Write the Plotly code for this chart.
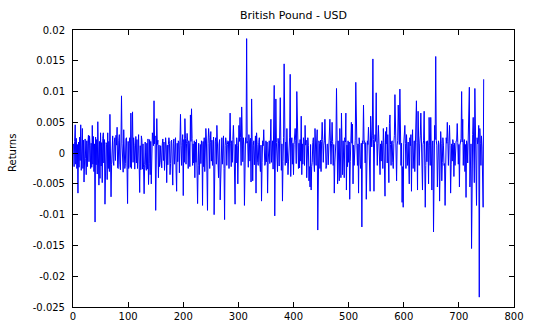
import plotly.graph_objects as go

# Daily GBP/USD returns, in thousandths (0.001)
returns_e3 = [
    1.5, -2.2, 1.9, 4.6, -1.8, 2.4, -2.5, 1.4, -6.5, 1.8,
    -2.3, 2.6, -1.2, 4.6, -2.8, 2.5, 4.0, -2.5, 2.1, -4.7,
    -1.6, 2.3, -0.9, -3.5, 2.0, -2.2, 1.6, 2.9, -1.4, 2.8,
    1.2, -2.5, 1.6, -2.3, 4.5, -1.8, 2.7, -3.0, 1.5, -11.2,
    2.6, -1.9, 2.2, -3.4, 5.1, -2.0, -5.2, 1.9, -4.1, 3.3,
    -2.1, 1.7, -4.8, 2.4, 3.3, -1.6, 2.2, -8.3, -2.0, 1.7,
    1.4, -4.3, 3.3, -2.5, 1.9, -3.0, 6.3, 1.5, -7.1, -1.8,
    1.6, 2.8, -1.4, -2.0, 1.8, 2.5, -1.2, 2.9, 1.3, 4.2,
    -2.4, -2.5, 2.0, 3.0, -1.8, -2.7, 1.8, 9.3, 1.5, -2.0,
    -3.1, 3.8, 1.6, -2.5, -1.7, 2.3, 2.5, -2.3, -8.2, 1.9,
    -2.5, 1.6, 2.5, -2.3, 6.5, -2.5, 2.0, 6.7, -1.5, 2.5,
    1.3, -2.6, 1.8, 2.7, -1.6, 2.2, -2.5, 1.4, 3.0, -1.9,
    -6.4, 1.2, -2.7, 2.8, 2.1, -2.6, 1.5, -2.4, -6.6, -1.9,
    1.8, -2.0, -2.8, 1.6, -2.6, 2.3, -5.1, -1.7, 2.2, -3.5,
    1.9, -5.0, -1.4, 3.3, 2.2, 1.2, 8.5, 1.5, 2.8, -9.3,
    -1.8, 5.6, 1.4, 2.1, -4.0, 1.3, -2.2, -1.5, 1.2, -1.6,
    -2.4, 1.5, 2.3, -1.2, 1.8, -2.8, 1.9, 2.5, 1.2, -4.8,
    1.3, -1.9, 1.4, 2.5, 1.6, -3.5, -1.7, 1.9, 2.1, -2.1,
    -5.2, 1.5, 2.3, -1.8, 1.3, 2.5, -2.9, -6.2, 1.6, -1.4,
    2.0, 1.8, -3.2, 2.1, 6.3, 1.2, -2.0, 1.7, 3.0, -6.9,
    2.2, -1.5, 5.6, 2.4, -1.8, 1.6, 3.2, 1.9, -2.5, 2.0,
    1.5, -2.2, 6.2, 1.9, 7.2, 2.4, -2.0, 1.5, -1.6, 2.0,
    -4.0, 1.8, -1.5, 2.2, -2.4, -8.2, -2.0, 1.6, -3.5, -1.8,
    1.4, -1.7, 2.0, 1.3, -8.5, 1.9, -2.2, 2.5, -3.0, 1.5,
    4.0, 2.3, -1.4, -9.3, 1.6, 4.0, 2.6, -2.5, 1.7, 3.5,
    -1.3, 2.1, -2.0, 1.4, 2.6, -10.0, -1.6, 1.9, 2.5, -1.8,
    4.5, 1.7, -2.1, -4.0, 1.5, 2.2, -7.6, -1.9, 1.6, 2.5,
    -1.8, 1.3, 2.8, -2.5, -10.8, 1.2, 2.5, 1.8, -2.0, 1.4,
    2.0, 1.9, -2.5, 2.1, 6.5, 1.5, -2.2, 2.0, -1.5, 2.2,
    4.5, 1.6, -2.0, -8.3, 1.4, -1.6, 2.5, 1.2, -5.0, 2.3,
    4.5, 1.9, 5.8, 2.5, -2.0, 7.5, 2.0, -1.4, 2.5, 1.3,
    -8.5, -1.8, 2.5, 1.6, 18.6, 2.1, 1.5, -2.3, 3.0, 1.8,
    -1.3, 2.4, -4.7, 8.8, 1.9, -4.5, 1.2, 2.0, -1.9, 1.6,
    2.8, -6.5, 3.3, 1.4, -1.5, -2.0, 1.7, 2.5, -1.8, -3.0,
    1.3, -7.8, -1.5, 2.0, 1.2, 3.8, 1.9, -2.0, -1.6, 2.0,
    -1.4, 1.8, -6.5, -1.5, 1.3, 2.0, -1.7, 2.9, 5.5, -1.5,
    1.6, 2.0, -2.6, 1.9, 11.0, -10.2, 2.2, 8.8, 1.7, -1.9,
    -3.0, 2.4, 1.5, -2.1, 2.3, 9.0, 2.0, -2.8, 1.5, -7.8,
    -1.4, 2.5, 14.5, 2.2, -2.0, 1.8, -1.6, 4.0, 1.4, -3.5,
    -1.3, 2.0, 2.6, 12.8, -3.8, 1.5, 2.5, -1.8, 1.6, -3.5,
    1.4, 2.5, 4.0, 2.0, -1.7, 10.0, 2.5, 1.2, -2.5, 1.6,
    -2.4, 2.2, -1.3, 6.0, -3.5, 1.5, -1.8, 2.5, 1.9, -2.0,
    4.5, 1.3, 2.1, -4.0, -1.5, 2.5, 1.2, -4.5, -2.2, -5.5,
    1.4, -6.0, -2.2, -1.5, 1.7, 2.5, -1.6, -3.0, 4.0, 1.5,
    -2.0, 1.8, 3.8, -12.5, -1.7, 2.0, 1.6, -2.5, 2.1, -3.0,
    1.9, 5.0, 2.2, -1.5, 1.3, 2.0, 5.5, 1.8, -2.5, -2.0,
    1.4, 1.5, -1.9, 2.5, 1.2, 5.5, 2.0, -1.8, 1.6, 5.0,
    1.9, -2.0, 1.4, -6.5, -1.6, 1.8, 2.0, 10.5, 1.5, -5.0,
    2.0, -1.7, -4.5, 4.0, 1.6, -4.0, 6.5, 1.7, -3.5, 2.0,
    -1.4, -4.0, 2.5, 1.8, 6.5, -6.0, 1.3, -2.2, 2.0, -1.5,
    1.8, -7.5, -1.4, 2.5, 5.0, 1.6, 4.7, -5.0, 1.3, -2.0,
    1.9, 2.1, 11.5, 2.0, 1.2, -2.0, 1.5, -6.5, 2.5, 1.4,
    -1.8, -2.5, 1.6, -12.0, 2.0, 1.5, 7.8, 1.9, 2.0, -1.6,
    1.7, -7.5, -1.3, 2.0, 1.4, 4.2, 1.8, -2.0, -6.2, 6.0,
    2.3, 1.0, 2.8, 15.3, 2.2, -6.2, 1.5, 3.0, 1.9, 9.8,
    2.0, -2.0, 1.6, 4.5, 1.8, -2.5, -3.5, 1.5, -1.3, 2.0,
    1.3, -2.5, 4.0, 1.7, -1.9, -7.0, 3.5, 1.5, 4.2, -1.6,
    3.0, -2.5, -4.8, 4.8, 6.2, 1.4, -2.0, 1.8, 2.0, -1.5,
    -2.5, 1.6, 2.9, 9.5, 1.9, -1.8, -4.5, 1.3, 2.0, 7.8,
    2.1, 1.4, 10.4, 2.5, -2.0, 1.6, -8.0, -2.2, -8.8, 1.5,
    2.5, 4.5, 1.6, -2.5, 3.0, 1.4, -2.0, 1.8, -1.6, -5.0,
    2.5, 1.2, 3.0, -6.2, 1.5, 3.8, -2.5, 1.3, 2.0, -3.0,
    1.6, 2.4, 8.5, 1.7, -6.0, 6.8, 2.0, -2.0, 1.5, 2.8,
    6.5, 1.9, -1.7, -6.0, 1.4, 2.0, 6.8, 1.6, -8.8, -2.0,
    1.9, -1.4, 2.0, 1.5, -5.0, 5.8, 1.3, -2.0, 5.8, 1.6,
    -6.0, 1.8, 2.0, -12.8, 1.5, 4.5, 2.2, 15.7, 2.0, 1.3,
    -5.5, -1.6, 2.0, 1.4, -7.8, -1.8, 3.5, 1.6, -4.5, -1.5,
    2.5, 1.3, -2.0, -1.7, -8.5, -1.4, 2.5, 1.6, 5.0, 1.9,
    -2.0, 1.5, 4.5, 1.2, -6.5, -1.8, 1.5, -1.3, 2.2, 1.4,
    -3.8, 1.6, -2.0, 1.3, 2.0, 2.0, 4.8, 1.7, -1.8, 1.4,
    -5.5, 1.3, 2.0, 2.4, 10.0, 1.8, 5.5, -2.0, 1.6, 2.2,
    -3.0, 1.4, -7.2, 2.0, 1.5, -1.6, 2.5, 1.8, 10.7, -5.5,
    -3.0, 1.5, -15.5, 2.0, 3.0, 5.8, 1.9, -4.8, 10.5, 2.5,
    -2.0, -8.5, 2.5, 1.5, 2.0, 4.5, -23.4, 4.0, 1.6, -2.0,
    2.8, 1.0, -4.0, -8.8, 12.0,
]

x_tick_vals = [0, 100, 200, 300, 400, 500, 600, 700, 800]
y_tick_vals = [0.02, 0.015, 0.01, 0.005, 0, -0.005, -0.01, -0.015, -0.02, -0.025]
y_tick_text = ["0.02", "0.015", "0.01", "0.005", "0", "-0.005", "-0.01", "-0.015", "-0.02", "-0.025"]

returns = [v / 1000 for v in returns_e3]
obs = list(range(1, len(returns) + 1))

W, H = 535, 324
L, R, T, B = 73, 21, 30, 17

fig = go.Figure(
    go.Scatter(x=obs, y=returns, mode="lines",
               line=dict(color="#0000ff", width=1), hoverinfo="skip")
)

axis_style = dict(
    showline=True, linecolor="black", linewidth=1, mirror="ticks",
    ticks="inside", ticklen=5, tickcolor="black", tickwidth=1,
    showgrid=False, zeroline=False, automargin=False,
    tickfont=dict(family="DejaVu Sans", size=10, color="black"),
)

fig.update_xaxes(range=[0, 800], tickvals=x_tick_vals, ticklabelstandoff=0, **axis_style)
fig.update_yaxes(range=[-0.025, 0.02], tickvals=y_tick_vals, ticktext=y_tick_text,
                 ticklabelstandoff=5, **axis_style)

fig.update_layout(
    width=W, height=H,
    margin=dict(l=L, r=R, t=T, b=B, pad=0, autoexpand=False),
    paper_bgcolor="white", plot_bgcolor="white",
    showlegend=False,
    font=dict(family="DejaVu Sans", color="black"),
    title=dict(text="British Pound - USD", x=0.5, xref="paper", xanchor="center",
               y=1 - 15 / H, yref="container", yanchor="middle",
               font=dict(family="DejaVu Sans", size=11, color="black")),
    annotations=[dict(text="Returns", textangle=-90, showarrow=False,
                      xref="paper", yref="paper",
                      x=(12 - L) / (W - L - R), y=(H - B - 153) / (H - T - B),
                      xanchor="center", yanchor="middle",
                      font=dict(family="DejaVu Sans", size=10, color="black"))],
)

fig.write_html("out.html")
